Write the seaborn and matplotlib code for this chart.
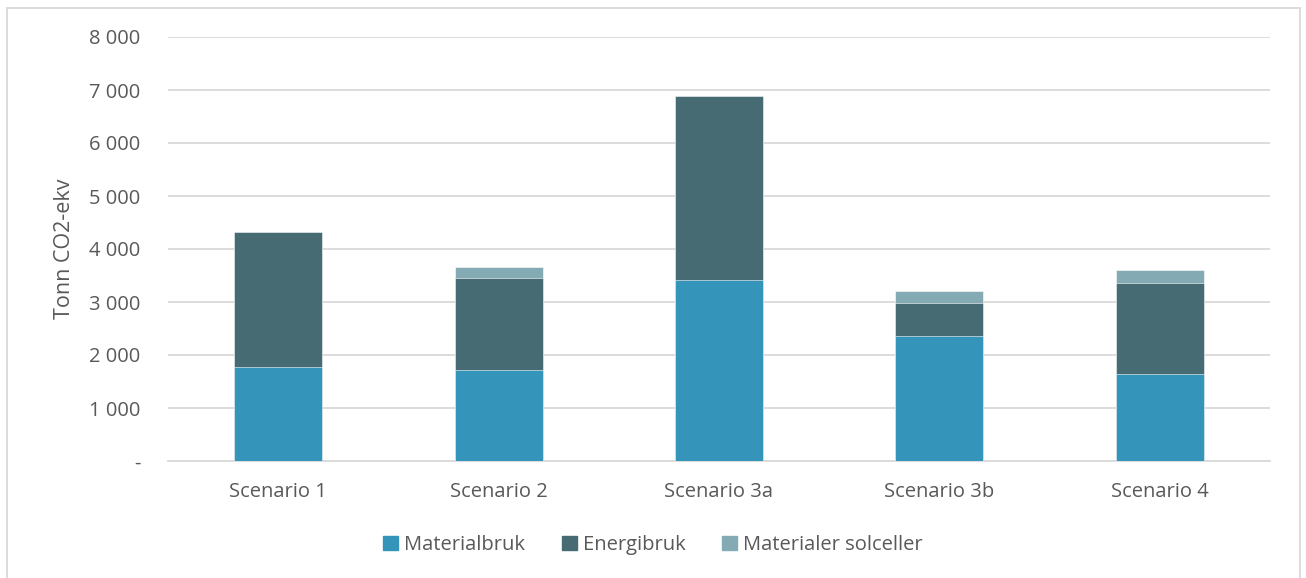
import matplotlib
matplotlib.use("Agg")
import matplotlib.pyplot as plt
import matplotlib.patches as mpatches
from matplotlib.ticker import FuncFormatter
import pandas as pd
import seaborn as sns

# Emissions per scenario, tonnes CO2-eq
scenarios = ["Scenario 1", "Scenario 2", "Scenario 3a", "Scenario 3b", "Scenario 4"]
materialbruk = [1773, 1711, 3412, 2353, 1648]
energibruk = [2552, 1733, 3473, 619, 1713]
materialer_solceller = [0, 219, 0, 232, 234]

series_names = ["Materialbruk", "Energibruk", "Materialer solceller"]
colors = ["#3594b9", "#466b73", "#84abb4"]

sns.set_theme(style="white")
plt.rcParams["font.family"] = ["Open Sans", "DejaVu Sans"]

df = pd.DataFrame({
    "scenario": scenarios,
    "Materialbruk": materialbruk,
    "Energibruk": energibruk,
    "Materialer solceller": materialer_solceller,
})
# Cumulative tops for stacking
df["c1"] = df["Materialbruk"]
df["c2"] = df["c1"] + df["Energibruk"]
df["c3"] = df["c2"] + df["Materialer solceller"]

fig = plt.figure(figsize=(13.06, 5.78), dpi=100)
ax = fig.add_axes([168 / 1306, 1 - 461 / 578, (1270 - 168) / 1306, (461 - 37) / 578])

# Draw from the tallest layer down so each lower segment sits on top
for col, color in zip(["c3", "c2", "c1"], colors[::-1]):
    sns.barplot(data=df, x="scenario", y=col, color=color, width=0.4,
                saturation=1, ax=ax, edgecolor="white", linewidth=0.4, zorder=3)

ax.set_ylim(0, 8000)
ax.set_yticks(range(0, 8001, 1000))
ax.yaxis.set_major_formatter(FuncFormatter(
    lambda v, p: "-" if v == 0 else f"{int(v):,}".replace(",", " ")))
ax.grid(axis="y", color="#d9d9d9", linewidth=1.3, zorder=0)
ax.set_axisbelow(True)
for s in ["top", "right", "left"]:
    ax.spines[s].set_visible(False)
ax.spines["bottom"].set_color("#d9d9d9")
ax.spines["bottom"].set_linewidth(1.3)
ax.tick_params(axis="both", length=0, labelsize=14.5, colors="#595959")
ax.tick_params(axis="y", pad=20)
ax.tick_params(axis="x", pad=15)
ax.set_xlabel("")
ax.set_ylabel("Tonn CO2-ekv", fontsize=15.5, color="#595959", labelpad=10)

handles = [mpatches.Patch(color=c, label=n) for c, n in zip(colors, series_names)]
fig.legend(handles=handles, loc="center", bbox_to_anchor=(0.5, 1 - 545 / 578),
           ncol=3, frameon=False, fontsize=14.5, handlelength=0.75, handleheight=0.75,
           handletextpad=0.3, columnspacing=1.8, labelcolor="#595959")

# Chart area frame
fig.patches.append(mpatches.Rectangle((7 / 1306, -0.05), (1300 - 7) / 1306, 1.05 - 8 / 578,
                                      transform=fig.transFigure, fill=False,
                                      edgecolor="#d9d9d9", linewidth=1.3))

fig.savefig("out.png", dpi=100)
